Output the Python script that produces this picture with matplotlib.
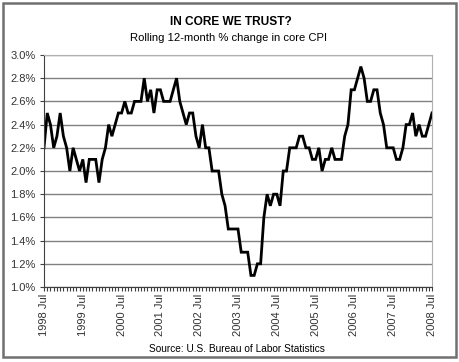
import matplotlib
matplotlib.use('Agg')
import matplotlib.pyplot as plt
import numpy as np
from matplotlib.patches import Rectangle
from matplotlib.ticker import FixedLocator, MultipleLocator, FuncFormatter

plt.rcParams['font.family'] = ['Liberation Sans', 'DejaVu Sans']

# rolling 12-month % change in core CPI, monthly Jul 1998 .. Jul 2008
core_cpi = [
    2.2, 2.5, 2.4, 2.2, 2.3, 2.5, 2.3, 2.2, 2.0, 2.2, 2.1, 2.0,
    2.1, 1.9, 2.1, 2.1, 2.1, 1.9, 2.1, 2.2, 2.4, 2.3, 2.4, 2.5,
    2.5, 2.6, 2.5, 2.5, 2.6, 2.6, 2.6, 2.8, 2.6, 2.7, 2.5, 2.7,
    2.7, 2.6, 2.6, 2.6, 2.7, 2.8, 2.6, 2.5, 2.4, 2.5, 2.5, 2.3,
    2.2, 2.4, 2.2, 2.2, 2.0, 2.0, 2.0, 1.8, 1.7, 1.5, 1.5, 1.5,
    1.5, 1.3, 1.3, 1.3, 1.1, 1.1, 1.2, 1.2, 1.6, 1.8, 1.7, 1.8,
    1.8, 1.7, 2.0, 2.0, 2.2, 2.2, 2.2, 2.3, 2.3, 2.2, 2.2, 2.1,
    2.1, 2.2, 2.0, 2.1, 2.1, 2.2, 2.1, 2.1, 2.1, 2.3, 2.4, 2.7,
    2.7, 2.8, 2.9, 2.8, 2.6, 2.6, 2.7, 2.7, 2.5, 2.4, 2.2, 2.2,
    2.2, 2.1, 2.1, 2.2, 2.4, 2.4, 2.5, 2.3, 2.4, 2.3, 2.3, 2.4,
    2.5,
]
years = list(range(1998, 2009))
tick_labels = [f'{y} Jul' for y in years]

months = np.arange(len(core_cpi))

fig = plt.figure(figsize=(4.6, 3.62), dpi=100)
fig.patches.append(Rectangle((3 / 460, 5 / 362), 453 / 460, 354 / 362,
                             transform=fig.transFigure, fill=False,
                             edgecolor='#707070', linewidth=1.8))

ax = fig.add_axes([44 / 460, 1 - 287 / 362, 388 / 460, 232 / 362])
ax.plot(months, core_cpi, color='black', linewidth=2.0,
        solid_joinstyle='miter')

ax.set_xlim(0, len(core_cpi) - 1)
ax.set_ylim(1.0, 3.0)
ax.yaxis.set_major_locator(MultipleLocator(0.2))
ax.yaxis.set_major_formatter(FuncFormatter(lambda v, _: f'{v:.1f}%'))
ax.grid(axis='y', color='#808080', linewidth=1.0)
ax.set_axisbelow(True)

ax.xaxis.set_major_locator(FixedLocator(np.arange(0, len(core_cpi), 12)))
ax.xaxis.set_minor_locator(FixedLocator(months))
ax.set_xticklabels(tick_labels, rotation=90, fontsize=8, color='#333333')
ax.tick_params(axis='x', which='both', direction='out', length=3,
               width=0.8, color='#404040', pad=2)
ax.tick_params(axis='y', direction='out', length=3, width=0.8,
               color='#404040', labelsize=8, labelcolor='#333333', pad=3)

for side in ('top', 'right'):
    ax.spines[side].set_color('#b0b0b0')
    ax.spines[side].set_linewidth(0.8)
for side in ('left', 'bottom'):
    ax.spines[side].set_color('#404040')
    ax.spines[side].set_linewidth(0.8)

fig.text(231 / 460, 1 - 22 / 362, 'IN CORE WE TRUST?', ha='center',
         va='center', fontsize=8.6, fontweight='bold')
fig.text(229 / 460, 1 - 38 / 362, 'Rolling 12-month % change in core CPI',
         ha='center', va='center', fontsize=8.1)
fig.text(237 / 460, 1 - 349 / 362, 'Source: U.S. Bureau of Labor Statistics',
         ha='center', va='center', fontsize=7.3)

fig.savefig('out.png', dpi=100)
